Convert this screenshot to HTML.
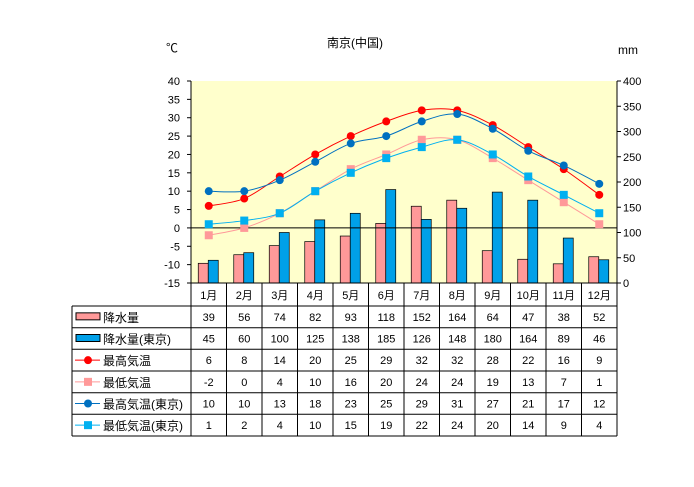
<!DOCTYPE html>
<html><head><meta charset="utf-8">
<style>
body{margin:0;background:#fff;}
svg{display:block;font-family:"Liberation Sans","Noto Sans CJK JP",sans-serif;}
</style></head><body>
<svg id="s" width="694" height="487" xmlns="http://www.w3.org/2000/svg"></svg>
<script>
const s=document.getElementById('s');
let h='';
const L=191,R=617,T=81,B=283,cw=(R-L)/12;
const yT=v=>T+(40-v)*(B-T)/55, yP=v=>B-v*(B-T)/400, xc=i=>L+cw*(i+0.5);
h+=`<rect x="${L}" y="${T}" width="${R-L}" height="${B-T}" fill="#ffffcc"/>`;
h+=`<text x="355" y="47" font-size="12" text-anchor="middle">南京(中国)</text>`;
h+=`<text x="166" y="52" font-size="12">℃</text><text x="618" y="54" font-size="12">mm</text>`;
for(let k=0;k<12;k++){let v=40-5*k,y=yT(v);
 h+=`<text x="180" y="${y+4}" font-size="11" text-anchor="end">${v}</text><line x1="${L-4}" y1="${y}" x2="${L}" y2="${y}" stroke="#000"/>`;}
for(let k=0;k<=8;k++){let p=400-50*k,yy=yP(p);
 h+=`<text x="623" y="${yy+4}" font-size="11">${p}</text><line x1="${R}" y1="${yy}" x2="${R+4}" y2="${yy}" stroke="#000"/>`;}
const p1=[39,56,74,82,93,118,152,164,64,47,38,52],p2=[45,60,100,125,138,185,126,148,180,164,89,46];
const hi=[6,8,14,20,25,29,32,32,28,22,16,9],lo=[-2,0,4,10,16,20,24,24,19,13,7,1],
th=[10,10,13,18,23,25,29,31,27,21,17,12],tl=[1,2,4,10,15,19,22,24,20,14,9,4];
for(let i=0;i<12;i++){let x=xc(i);
 h+=`<rect x="${x-10.5}" y="${yP(p1[i])}" width="10" height="${B-yP(p1[i])}" fill="#ff9999" stroke="#000" stroke-width="0.7"/>`;
 h+=`<rect x="${x-0.5}" y="${yP(p2[i])}" width="10" height="${B-yP(p2[i])}" fill="#00a0e8" stroke="#000" stroke-width="0.7"/>`;}
h+=`<line x1="${L}" y1="${yT(0)}" x2="${R}" y2="${yT(0)}" stroke="#000"/>`;
h+=`<line x1="${L}" y1="${T}" x2="${L}" y2="${B}" stroke="#000"/><line x1="${R}" y1="${T}" x2="${R}" y2="${B}" stroke="#000"/>`;
function path(d){let P=d.map((v,i)=>[xc(i),yT(v)]);let s=`M${P[0]}`;
 for(let i=0;i<P.length-1;i++){let a=P[i-1]||P[i],b=P[i],c=P[i+1],e=P[i+2]||c;
  s+=`C${b[0]+(c[0]-a[0])/6},${b[1]+(c[1]-a[1])/6} ${c[0]-(e[0]-b[0])/6},${c[1]-(e[1]-b[1])/6} ${c[0]},${c[1]}`;}return s;}
const ser=[[hi,'#ff0000','c'],[lo,'#ff9999','s'],[th,'#0070c0','c'],[tl,'#00b0f0','s']];
for(const [d,c,m] of ser){h+=`<path d="${path(d)}" fill="none" stroke="${c}" stroke-width="1"/>`;
 d.forEach((v,i)=>{let x=xc(i),y=yT(v);h+=m=='c'?`<circle cx="${x}" cy="${y}" r="4" fill="${c}"/>`:`<rect x="${x-4}" y="${y-4}" width="8" height="8" fill="${c}"/>`;});}
const rows=[306,327.7,349.3,371,392.7,414.3,436];
h+=`<g stroke="#000" stroke-width="1">`;
h+=`<line x1="${L}" y1="${B}" x2="${R}" y2="${B}"/>`;
rows.forEach(y=>h+=`<line x1="72" y1="${y}" x2="${R}" y2="${y}"/>`);
h+=`<line x1="72" y1="306" x2="72" y2="436"/>`;
for(let i=0;i<=12;i++)h+=`<line x1="${L+cw*i}" y1="${B}" x2="${L+cw*i}" y2="436"/>`;
h+=`</g>`;
for(let i=0;i<12;i++)h+=`<text x="${xc(i)}" y="299" font-size="11" text-anchor="middle">${i+1}月</text>`;
const data=[p1,p2,hi,lo,th,tl],names=['降水量','降水量(東京)','最高気温','最低気温','最高気温(東京)','最低気温(東京)'];
data.forEach((d,r)=>{let yc=(rows[r]+rows[r+1])/2;
 d.forEach((v,i)=>h+=`<text x="${xc(i)}" y="${yc+4}" font-size="11" text-anchor="middle">${v}</text>`);
 h+=`<text x="103" y="${yc+5}" font-size="12">${names[r]}</text>`;
 if(r<2)h+=`<rect x="76" y="${yc-4}" width="24" height="7" fill="${r?'#00a0e8':'#ff9999'}" stroke="#000"/>`;
 else{let c=ser[r-2][1];h+=`<line x1="75" y1="${yc}" x2="100" y2="${yc}" stroke="${c}"/>`+(ser[r-2][2]=='c'?`<circle cx="88" cy="${yc}" r="4" fill="${c}"/>`:`<rect x="84" y="${yc-4}" width="8" height="8" fill="${c}"/>`);}
});
s.innerHTML=h;
</script>
</body></html>
